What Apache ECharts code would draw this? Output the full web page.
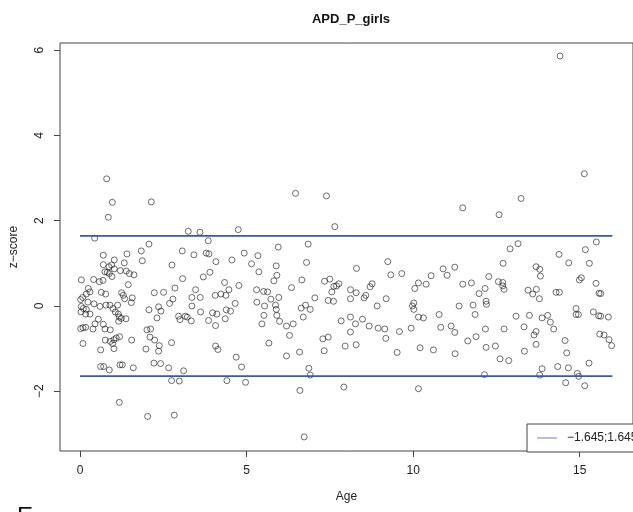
<!DOCTYPE html>
<html>
<head>
<meta charset="utf-8">
<title>APD_P_girls</title>
<script src="https://cdn.jsdelivr.net/npm/echarts@6/dist/echarts.min.js"></script>
<style>
  html, body { margin: 0; padding: 0; background: #fff; }
  #chart { width: 633px; height: 512px; }
</style>
</head>
<body>
<div id="chart"></div>
<script>
// age (years) and z-score of every child
var ages = [
    0.80, 0.97, 2.14, 0.85, 0.44, 2.07, 1.84, 0.70, 1.41, 1.03, 1.87, 0.70, 1.33, 0.87, 0.95, 1.03, 1.21,
    0.75, 0.82, 1.39, 1.48, 1.62, 0.88, 0.96, 0.04, 0.41, 0.58, 0.69, 1.45, 0.25, 0.30, 0.19, 0.08, 0.64,
    0.77, 1.25, 1.30, 1.34, 2.23, 2.51, 0.02, 0.24, 0.42, 0.60, 0.78, 0.90, 0.99, 1.13, 1.54, 1.57, 0.04,
    0.10, 0.19, 0.03, 0.17, 0.30, 1.06, 1.15, 1.18, 1.24, 1.38, 2.07, 2.36, 2.43, 2.31, 0.45, 0.55, 0.70,
    0.02, 0.09, 0.17, 0.39, 0.75, 0.91, 1.16, 2.01, 2.12, 0.76, 0.91, 1.02, 1.09, 1.19, 0.98, 0.09, 1.55,
    2.10, 2.24, 2.38, 0.62, 1.02, 1.98, 2.36, 0.62, 0.71, 0.88, 1.20, 1.27, 1.60, 2.22, 2.42, 1.18, 2.03,
    3.25, 3.60, 4.75, 3.85, 3.07, 3.42, 3.79, 3.87, 4.93, 5.34, 2.76, 4.08, 4.56, 5.15, 5.37, 3.90, 3.70,
    3.08, 4.34, 4.77, 2.85, 3.47, 4.47, 2.79, 2.69, 3.36, 3.61, 4.06, 4.23, 4.38, 5.30, 5.31, 3.36, 3.62,
    4.66, 4.39, 4.52, 3.98, 4.11, 2.96, 3.00, 3.16, 3.22, 3.34, 3.86, 4.36, 4.07, 2.75, 4.07, 4.14, 4.69,
    4.85, 2.66, 3.11, 2.75, 2.98, 4.41, 4.97, 2.83,
    6.47, 7.40, 7.65, 5.95, 6.85, 6.80, 5.89, 5.91, 5.82, 6.66, 6.35, 7.34, 7.50, 7.56, 7.62, 7.70, 7.77,
    8.12, 5.51, 5.63, 5.73, 5.97, 5.54, 5.87, 5.89, 5.52, 5.46, 5.91, 5.99, 6.20, 6.40, 6.64, 6.77, 6.91,
    7.05, 6.70, 7.45, 7.61, 8.12, 7.84, 8.12, 6.29, 5.67, 7.29, 7.45, 7.96, 6.20, 6.59, 7.33, 6.87, 6.91,
    6.60, 7.92, 6.73, 8.12,
    9.24, 8.30, 9.33, 9.66, 10.90, 10.54, 10.16, 10.39, 10.05, 8.77, 8.71, 8.29, 8.58, 8.53, 9.19, 8.92,
    10.02, 9.98, 10.02, 10.78, 8.48, 8.27, 8.68, 8.95, 9.15, 9.18, 9.59, 9.94, 10.16, 10.31, 10.83, 8.29,
    9.52, 10.21, 10.61, 10.16,
    11.49, 12.58, 13.24, 13.15, 12.91, 12.70, 11.25, 11.02, 13.69, 12.27, 11.49, 11.75, 12.16, 11.98,
    12.56, 12.69, 12.69, 12.73, 13.45, 13.59, 13.70, 11.38, 11.80, 12.19, 12.20, 11.86, 13.09, 13.49,
    11.14, 11.25, 12.17, 12.73, 13.33, 13.63, 13.69, 13.69, 11.64, 11.89, 12.19, 12.47, 13.34, 11.26,
    12.61, 12.87, 12.14,
    15.14, 14.41, 15.50, 15.17, 14.38, 14.67, 15.29, 13.80, 13.82, 15.05, 14.99, 15.49, 14.29, 14.39,
    15.58, 15.63, 13.79, 14.89, 14.89, 14.96, 15.41, 15.57, 15.63, 15.86, 13.87, 14.04, 14.12, 14.22,
    15.60, 15.73, 15.88, 15.96, 14.56, 14.61, 15.28, 13.87, 13.80, 14.34, 14.66, 14.93, 14.97, 14.58, 15.15
];
var zScores = [
    2.98, 2.43, 2.44, 2.08, 1.59, 1.45, 1.29, 1.19, 1.22, 1.08, 1.06, 0.97, 1.01, 0.92, 0.96, 0.87, 0.83,
    0.80, 0.79, 0.82, 0.76, 0.73, 0.76, 0.69, 0.61, 0.62, 0.57, 0.60, 0.50, 0.41, 0.33, 0.28, 0.20, 0.32,
    0.28, 0.31, 0.25, 0.17, 0.31, 0.32, 0.15, 0.09, 0.05, -0.01, 0.02, 0.02, -0.06, 0.02, 0.08, 0.19, -0.01,
    -0.06, -0.08, -0.14, -0.19, -0.19, -0.14, -0.19, -0.26, -0.29, -0.30, -0.09, -0.02, -0.12, -0.28, -0.42, -0.31, -0.43,
    -0.53, -0.51, -0.50, -0.54, -0.54, -0.56, -0.36, -0.56, -0.54, -0.80, -0.83, -0.79, -0.75, -0.72, -0.88, -0.88, -0.80,
    -0.73, -0.80, -0.93, -1.03, -1.00, -1.01, -1.06, -1.42, -1.42, -1.50, -1.38, -1.38, -1.45, -1.34, -1.35, -2.26, -2.59,
    1.75, 1.73, 1.79, 1.53, 1.29, 1.20, 1.24, 1.22, 1.24, 1.18, 0.96, 1.04, 1.08, 0.99, 0.80, 0.79, 0.68,
    0.64, 0.55, 0.48, 0.42, 0.38, 0.38, 0.16, 0.06, 0.20, 0.20, 0.25, 0.28, 0.25, 0.38, 0.09, 0.00, -0.14,
    0.06, -0.09, -0.12, -0.16, -0.19, -0.24, -0.32, -0.24, -0.26, -0.35, -0.34, -0.30, -0.46, -0.86, -0.94, -1.02, -1.20,
    -1.43, -1.45, -1.52, -1.75, -1.76, -1.75, -1.79, -2.56,
    2.64, 2.58, 1.86, 1.38, 1.45, 1.02, 0.94, 0.72, 0.59, 0.61, 0.43, 0.58, 0.63, 0.33, 0.46, 0.47, 0.52,
    0.38, 0.34, 0.33, 0.16, 0.20, 0.00, 0.02, -0.08, -0.22, -0.42, -0.22, -0.36, -0.47, -0.42, -0.05, 0.02, -0.08,
    0.19, -0.26, 0.13, 0.11, 0.17, -0.35, -0.61, -0.69, -0.87, -0.77, -0.73, -0.94, -1.17, -1.08, -1.05, -1.46, -1.62,
    -1.98, -1.90, -3.07, -0.26,
    1.04, 0.88, 0.73, 0.76, 0.87, 0.71, 0.54, 0.51, 0.41, 0.52, 0.45, 0.31, 0.25, 0.19, 0.17, 0.00,
    0.07, 0.00, -0.08, -0.20, -0.31, -0.42, -0.47, -0.52, -0.54, -0.76, -0.60, -0.52, -0.26, -0.28, -0.50, -0.91,
    -1.09, -0.98, -1.03, -1.94,
    2.30, 2.14, 2.52, 1.46, 1.34, 1.00, 0.91, 0.72, 0.92, 0.69, 0.51, 0.54, 0.41, 0.29,
    0.57, 0.55, 0.47, 0.39, 0.37, 0.28, 0.39, 0.00, 0.02, 0.11, 0.04, -0.20, -0.24, -0.22,
    -0.47, -0.62, -0.54, -0.54, -0.49, -0.68, -0.60, -0.90, -0.82, -0.72, -0.97, -0.94, -1.06, -1.12,
    -1.24, -1.28, -1.61,
    3.10, 5.86, 1.50, 1.32, 1.21, 1.01, 1.00, 0.86, 0.70, 0.66, 0.61, 0.53, 0.32, 0.32,
    0.30, 0.29, 0.17, -0.06, -0.20, -0.20, -0.14, -0.23, -0.24, -0.26, -0.28, -0.22, -0.38, -0.54,
    -0.66, -0.68, -0.79, -0.93, -0.81, -1.10, -1.34, -1.47, -1.62, -1.42, -1.45, -1.58, -1.65, -1.80, -1.87
];

var xTicks = [0, 5, 10, 15];
var yTicks = [-2, 0, 2, 4, 6];

// cut-off lines, drawn over the age range of the sample
var cutLow = -1.645;
var cutHigh = 1.645;
var cutFrom = 0;
var cutTo = 15.98;
var cutLabel = '\u22121.645;1.645';

var points = ages.map(function (age, i) {
    return [age, zScores[i]];
});
var withMinus = function (val) {
    return String(val).replace('-', '\u2212');
};

var font = 'Liberation Sans, Arial, Helvetica, sans-serif';
var ink = '#222';
var cutColor = '#3a56b6';

var chart = echarts.init(document.getElementById('chart'));
chart.setOption({
    animation: false,
    textStyle: { fontFamily: font },
    title: {
        text: 'APD_P_girls',
        left: 346,
        top: 8,
        textAlign: 'center',
        textStyle: { fontSize: 13, fontWeight: 'bold', color: '#111', fontFamily: font }
    },
    grid: {
        left: 57,
        top: 43,
        width: 580,
        height: 408,
        show: true,
        borderColor: '#444',
        borderWidth: 1,
        backgroundColor: 'transparent'
    },
    legend: {
        left: 527,
        top: 424,
        data: [{ name: cutLabel, icon: 'rect' }],
        selectedMode: false,
        backgroundColor: '#fff',
        borderColor: '#444',
        borderWidth: 1,
        borderRadius: 0,
        padding: [7, 10, 7, 10],
        itemWidth: 20,
        itemHeight: 1,
        itemStyle: { color: '#6f7bcf', borderWidth: 0 },
        textStyle: { fontSize: 12, color: ink, fontFamily: font, padding: [0, 0, 0, 5], lineHeight: 14 }
    },
    xAxis: {
        type: 'value',
        min: -0.6,
        max: 16.6,
        splitLine: { show: false },
        axisLine: { show: false, onZero: false },
        axisTick: { customValues: xTicks, length: 6, lineStyle: { color: '#444' } },
        axisLabel: { customValues: xTicks, margin: 14, fontSize: 12, color: ink, fontFamily: font },
        name: 'Age',
        nameLocation: 'middle',
        nameGap: 40,
        nameTextStyle: { fontSize: 12, color: ink, fontFamily: font }
    },
    yAxis: {
        type: 'value',
        min: -3.4,
        max: 6.165,
        splitLine: { show: false },
        axisLine: { show: false, onZero: false },
        axisTick: { customValues: yTicks, length: 6, lineStyle: { color: '#444' } },
        axisLabel: {
            customValues: yTicks,
            rotate: 90,
            margin: 14,
            fontSize: 12,
            color: ink,
            fontFamily: font,
            formatter: withMinus
        },
        name: 'z\u2212score',
        nameLocation: 'middle',
        nameRotate: 90,
        nameGap: 40,
        nameTextStyle: { fontSize: 12, color: ink, fontFamily: font }
    },
    graphic: [{
        type: 'text',
        left: 17,
        top: 505,
        style: { text: 'E', fontSize: 24, fill: '#111', fontFamily: font }
    }],
    series: [
        {
            type: 'scatter',
            name: 'children',
            data: points,
            symbol: 'circle',
            symbolSize: 6,
            itemStyle: { color: 'rgba(0,0,0,0)', borderColor: '#1a1a1a', borderWidth: 0.8 },
            emphasis: { disabled: true },
            silent: true
        },
        {
            type: 'line',
            name: cutLabel,
            data: [[cutFrom, cutHigh], [cutTo, cutHigh]],
            symbol: 'none',
            lineStyle: { color: cutColor, width: 1.8 },
            itemStyle: { color: cutColor },
            silent: true
        },
        {
            type: 'line',
            name: cutLabel,
            data: [[cutFrom, cutLow], [cutTo, cutLow]],
            symbol: 'none',
            lineStyle: { color: cutColor, width: 1.8 },
            itemStyle: { color: cutColor },
            silent: true
        }
    ]
});
</script>
</body>
</html>
